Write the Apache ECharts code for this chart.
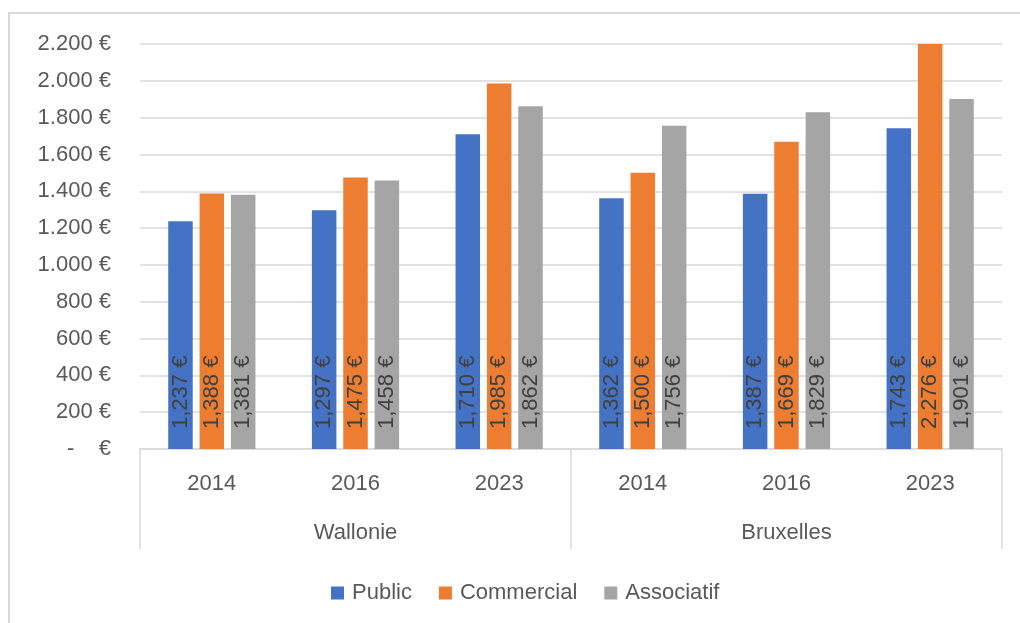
<!DOCTYPE html>
<html>
<head>
<meta charset="utf-8">
<script src="https://cdn.jsdelivr.net/npm/echarts@6/dist/echarts.min.js"></script>
<style>
  html, body { margin: 0; padding: 0; width: 1020px; height: 623px; overflow: hidden; background: #fff; }
  #frame { position: absolute; left: 8px; top: 12px; width: 2000px; height: 2000px; border-left: 2px solid #d9d9d9; border-top: 2px solid #d9d9d9; }
  #chart { position: absolute; left: 0; top: 0; width: 1020px; height: 623px; }
</style>
</head>
<body>
<div id="frame"></div>
<div id="chart"></div>
<script>
const years = ['2014', '2016', '2023', '2014', '2016', '2023'];
const regions = ['Wallonie', 'Bruxelles'];
const seriesNames = ['Public', 'Commercial', 'Associatif'];
const publicValues = [1237, 1297, 1710, 1362, 1387, 1743];
const commercialValues = [1388, 1475, 1985, 1500, 1669, 2276];
const associatifValues = [1381, 1458, 1862, 1756, 1829, 1901];
const colors = ['#4472C4', '#ED7D31', '#A5A5A5'];

const FONT = 'Liberation Sans';

function dotThousands(v) {
  return String(v).replace(/\B(?=(\d{3})+(?!\d))/g, '.');
}
function commaThousands(v) {
  return String(v).replace(/\B(?=(\d{3})+(?!\d))/g, ',');
}

const chart = echarts.init(document.getElementById('chart'), null, { renderer: 'canvas' });

function makeSeries(name, values, color) {
  return {
    name: name,
    type: 'bar',
    xAxisIndex: 0,
    data: values,
    barWidth: 24.5,
    barGap: '28%',
    itemStyle: { color: color },
    label: {
      show: true,
      position: 'insideBottom',
      rotate: 90,
      align: 'left',
      verticalAlign: 'middle',
      distance: 20,
      fontFamily: FONT,
      fontSize: 22,
      color: '#404040',
      formatter: p => commaThousands(p.value) + ' €'
    }
  };
}

chart.setOption({
  animation: false,
  backgroundColor: 'transparent',
  textStyle: { fontFamily: FONT },
  grid: { left: 140, right: 18, top: 44, bottom: 174 },
  legend: {
    left: 326,
    top: 577,
    itemWidth: 13,
    itemHeight: 13,
    itemGap: 27,
    icon: 'rect',
    data: seriesNames,
    textStyle: { fontFamily: FONT, fontSize: 22, color: '#595959', padding: [0, 0, 0, 3] }
  },
  xAxis: [
    {
      type: 'category',
      data: years,
      position: 'bottom',
      axisLine: { show: true, lineStyle: { color: '#d9d9d9', width: 1.5 } },
      axisTick: { show: false },
      axisLabel: { fontFamily: FONT, fontSize: 22, color: '#595959', margin: 24 }
    },
    {
      type: 'category',
      data: regions,
      position: 'bottom',
      axisLine: { show: false },
      axisTick: { show: true, length: 100, lineStyle: { color: '#d9d9d9', width: 1.5 } },
      axisLabel: { fontFamily: FONT, fontSize: 22, color: '#595959', margin: 73 },
      splitLine: { show: false }
    }
  ],
  yAxis: {
    type: 'value',
    min: 0,
    max: 2200,
    interval: 200,
    axisLine: { show: false },
    axisTick: { show: false },
    splitLine: { lineStyle: { color: '#d9d9d9', width: 1.5 } },
    axisLabel: {
      fontFamily: FONT,
      fontSize: 22,
      color: '#595959',
      margin: 29,
      formatter: v => v === 0 ? '-    €' : dotThousands(v) + ' €'
    }
  },
  series: [
    makeSeries(seriesNames[0], publicValues, colors[0]),
    makeSeries(seriesNames[1], commercialValues, colors[1]),
    makeSeries(seriesNames[2], associatifValues, colors[2])
  ]
});
</script>
</body>
</html>
